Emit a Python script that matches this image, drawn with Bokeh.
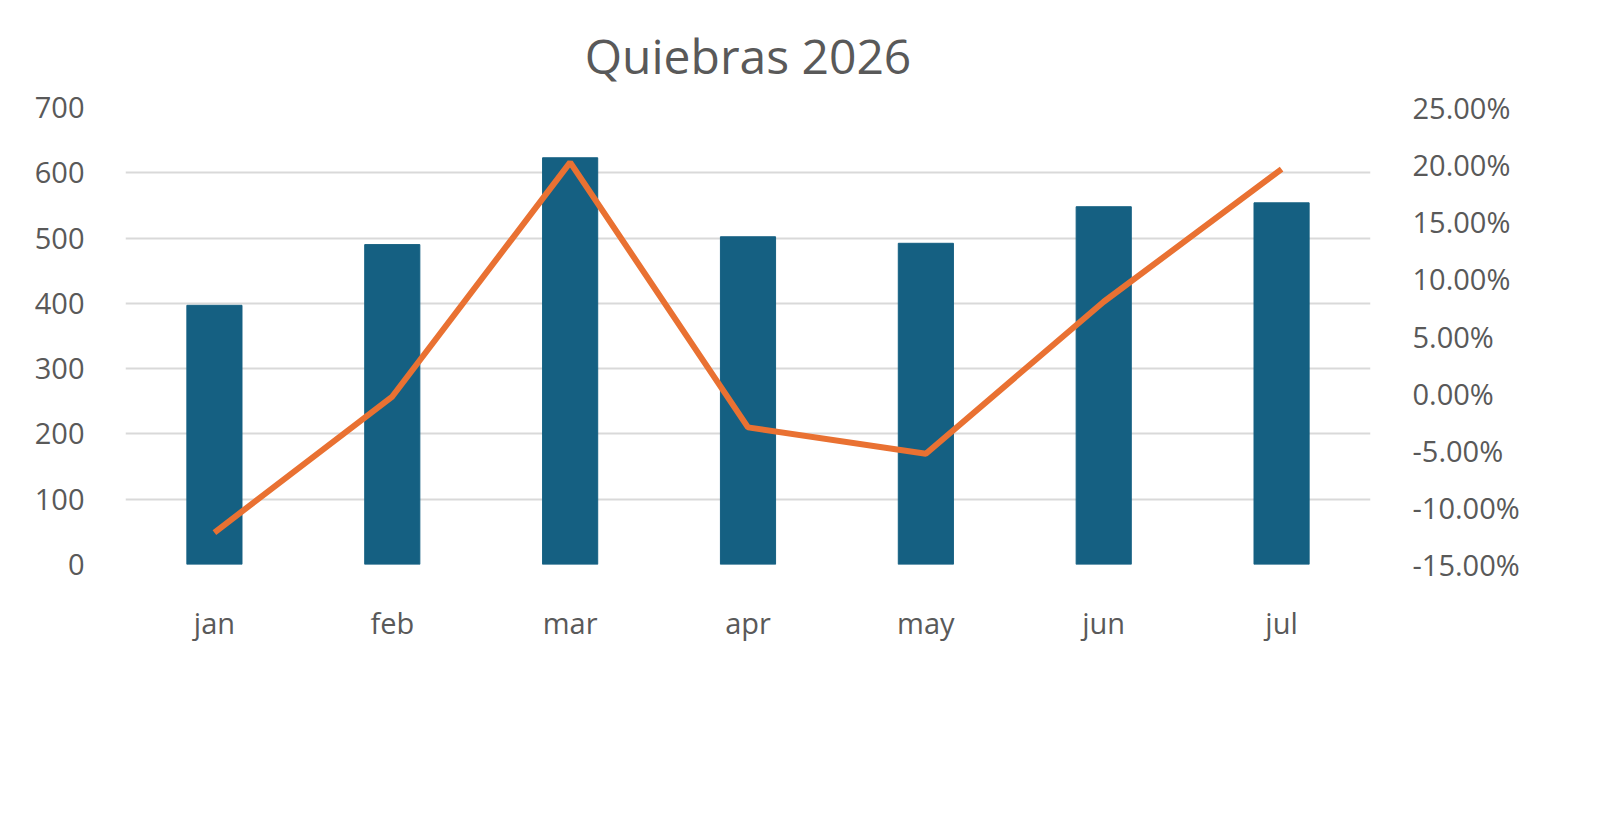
from bokeh.plotting import figure
from bokeh.models import Range1d, LinearAxis, FixedTicker, PrintfTickFormatter, Legend, LegendItem, ColumnDataSource
from bokeh.embed import file_html
from bokeh.resources import INLINE

months = ["jan", "feb", "mar", "apr", "may", "jun", "jul"]
radicaciones = [397, 490, 623, 502, 492, 548, 554]
cambio_pct = [-12.2, -0.3, 20.2, -3.0, -5.3, 8.0, 19.6]
left_ticks = [0, 100, 200, 300, 400, 500, 600, 700]
right_ticks = [-15, -10, -5, 0, 5, 10, 15, 20, 25]

src = ColumnDataSource(dict(m=months, r=radicaciones, c=cambio_pct))
FONT = "Open Sans"
GRAY = "#595959"

p = figure(x_range=months, y_range=Range1d(0, 700), frame_width=1245, frame_height=457,
           output_backend="svg", toolbar_location=None,
           min_border_left=125, min_border_right=198, min_border_top=40, min_border_bottom=0)
p.extra_y_ranges = {"pct": Range1d(-15, 25)}
p.outline_line_color = None
p.border_fill_color = "white"

p.title.text = "Quiebras 2026"
p.title.align = "center"
p.title.text_font = FONT
p.title.text_font_size = "48px"
p.title.text_font_style = "normal"
p.title.text_color = GRAY
p.title.offset = 0
p.title.standoff = 40

bars = p.vbar(x="m", top="r", width=0.31, source=src, color="#156082")
line = p.line(x="m", y="c", source=src, y_range_name="pct", line_color="#E97132", line_width=6)

for ax in [p.yaxis[0], p.xaxis[0]]:
    ax.axis_line_color = None
    ax.major_tick_line_color = None
    ax.minor_tick_line_color = None
    ax.major_label_text_font = FONT
    ax.major_label_text_font_size = "29px"
    ax.major_label_text_color = GRAY
p.yaxis[0].ticker = FixedTicker(ticks=left_ticks)
p.yaxis[0].major_label_standoff = 35
p.xaxis[0].major_label_standoff = 32

ra = LinearAxis(y_range_name="pct", ticker=FixedTicker(ticks=right_ticks),
                formatter=PrintfTickFormatter(format="%.2f%%"))
ra.axis_line_color = None
ra.major_tick_line_color = None
ra.minor_tick_line_color = None
ra.major_label_text_font = FONT
ra.major_label_text_font_size = "29px"
ra.major_label_text_color = GRAY
ra.major_label_standoff = 36
p.add_layout(ra, "right")

p.xgrid.grid_line_color = None
p.ygrid.grid_line_color = "#d9d9d9"
p.ygrid.grid_line_width = 2
p.ygrid.ticker = FixedTicker(ticks=left_ticks)

leg = Legend(items=[LegendItem(label="Radicaciones", renderers=[bars]),
                    LegendItem(label="Cambio Porcentual", renderers=[line])],
             orientation="horizontal", location="center",
             label_text_font=FONT, label_text_font_size="29px", label_text_color=GRAY,
             glyph_width=84, glyph_height=22, spacing=55, border_line_color=None,
             margin=30, label_standoff=8)
p.add_layout(leg, "below")

open("out.html", "w").write(file_html(p, INLINE))
